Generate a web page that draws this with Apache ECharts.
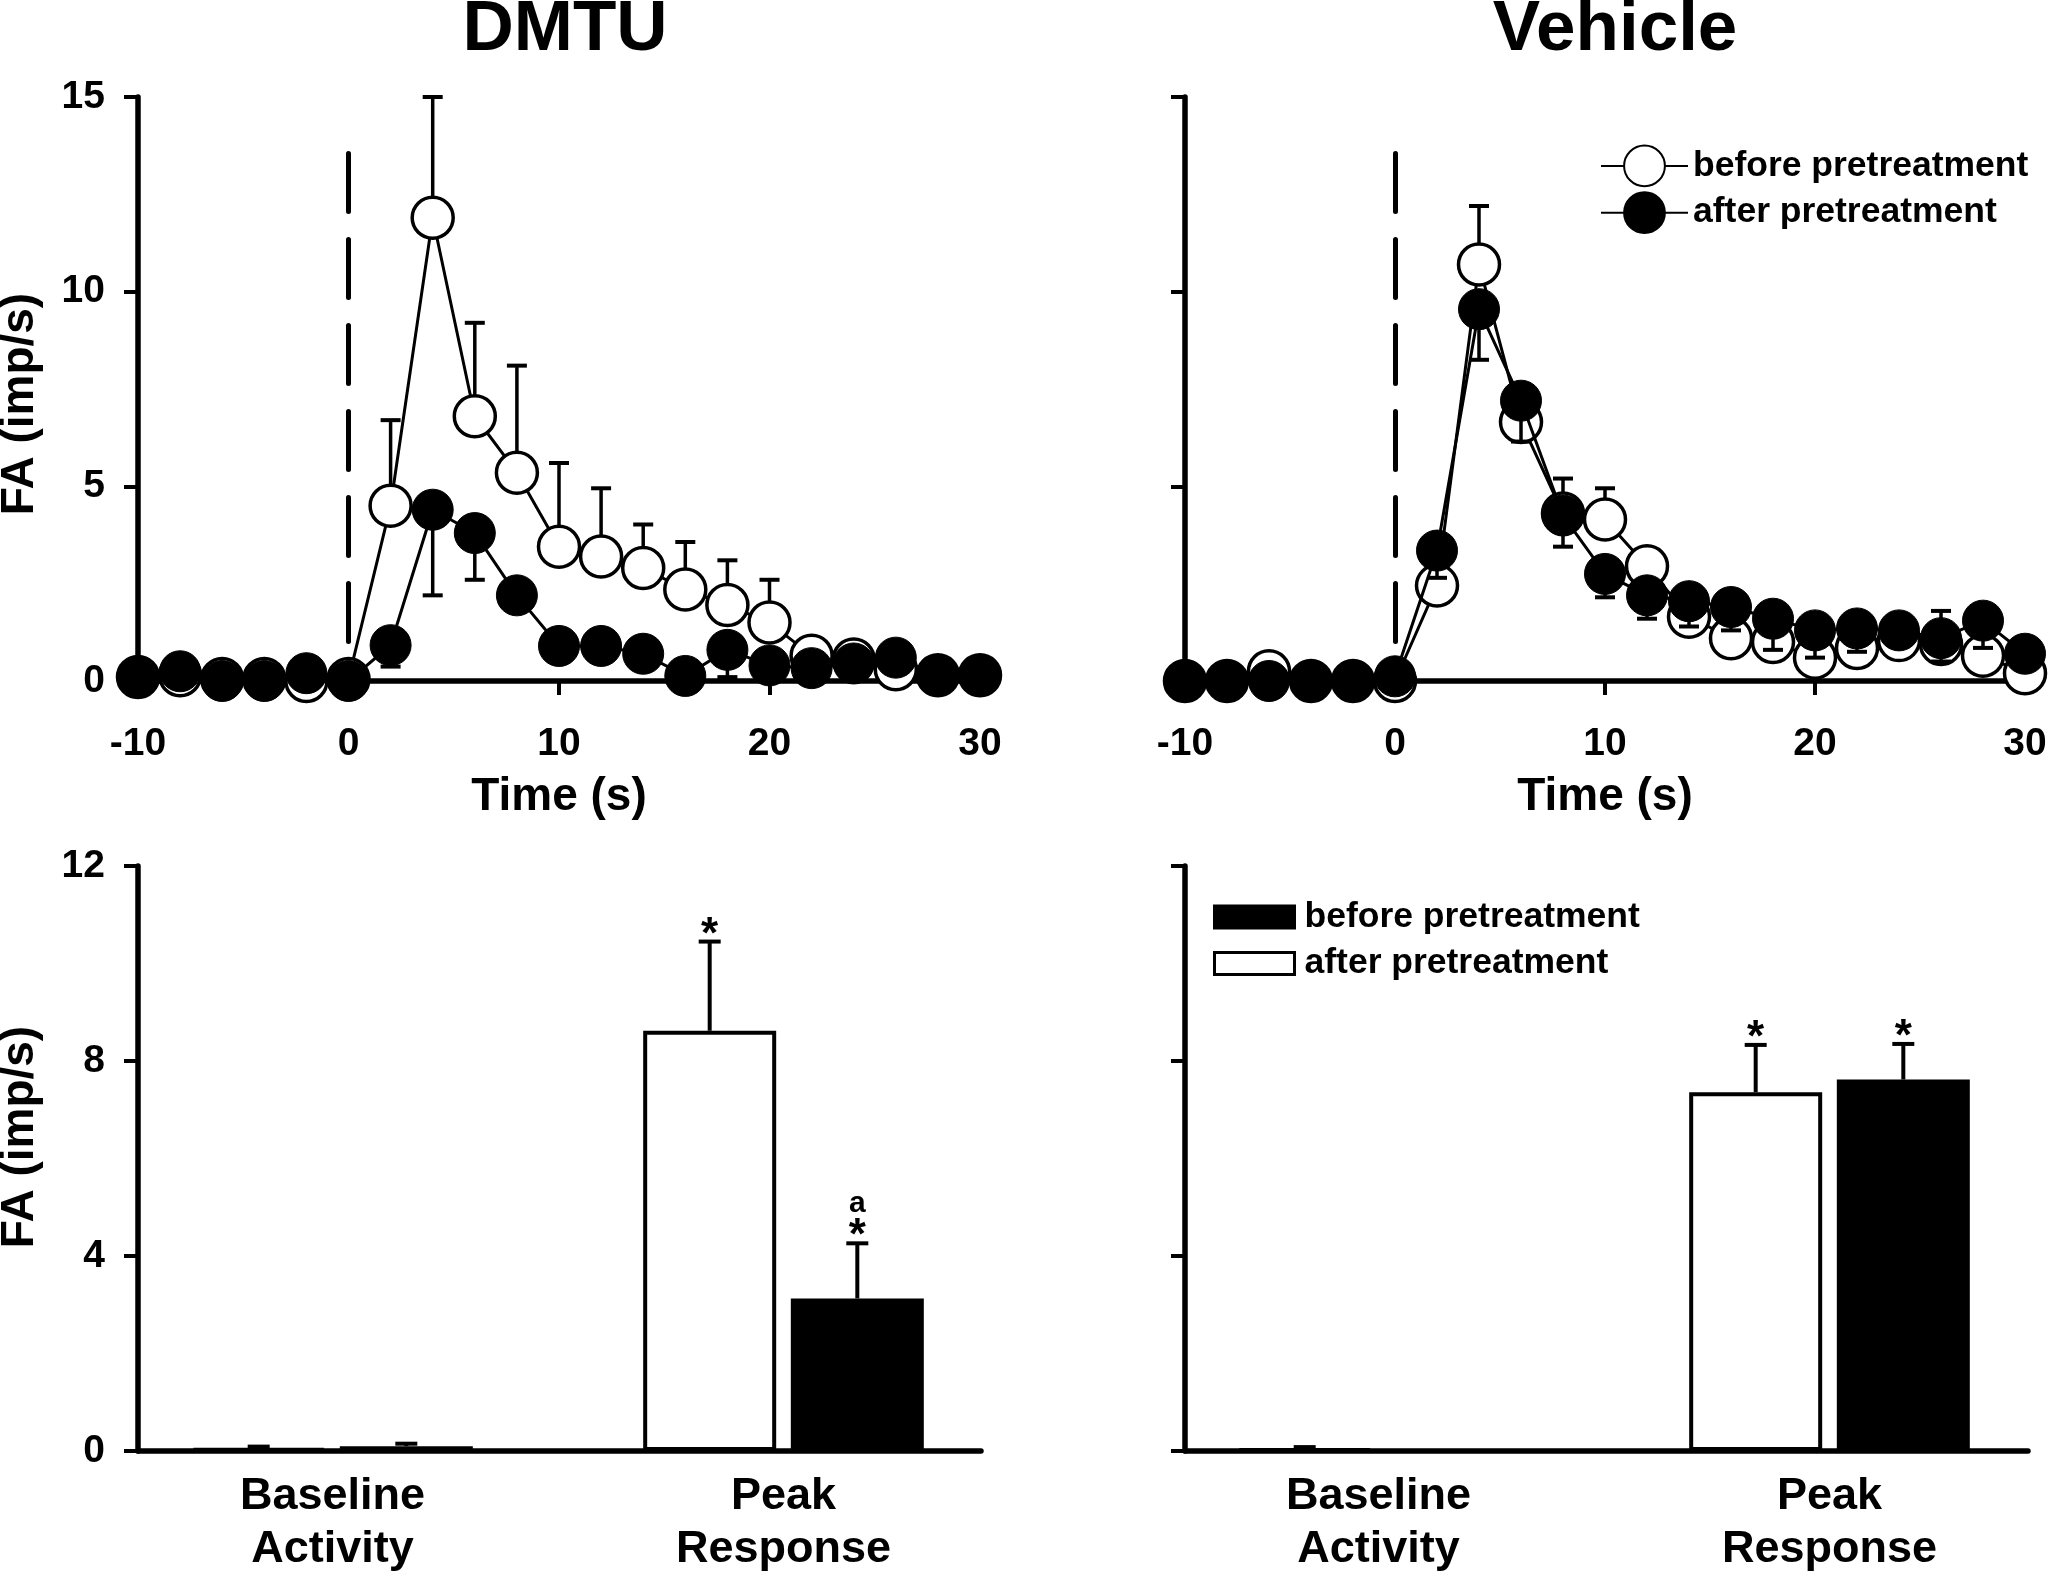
<!DOCTYPE html>
<html>
<head>
<meta charset="utf-8">
<script src="https://cdn.jsdelivr.net/npm/echarts@6/dist/echarts.min.js"></script>
<style>
html, body { margin: 0; padding: 0; background: #fff; }
#chart { width: 2050px; height: 1572px; }
</style>
</head>
<body>
<div id="chart"></div>
<script>
// ---------------- DATA ----------------
const timeS = [-10, -8, -6, -4, -2, 0, 2, 4, 6, 8, 10, 12, 14, 16, 18, 20, 22, 24, 26, 28, 30];

const dmtuBefore    = [0.1, 0.15, 0.05, 0.05, 0.0, 0.05, 4.5, 11.9, 6.8, 5.35, 3.45, 3.2, 2.9, 2.35, 1.95, 1.5, 0.65, 0.55, 0.3, 0.15, 0.15];
const dmtuBeforeSem = [0, 0, 0, 0, 0, 0, 2.2, 3.1, 2.4, 2.75, 2.15, 1.75, 1.12, 1.22, 1.15, 1.1, 0, 0, 0, 0, 0];
const dmtuAfter     = [0.1, 0.25, 0.0, 0.0, 0.2, 0.0, 0.92, 4.4, 3.8, 2.2, 0.9, 0.9, 0.7, 0.13, 0.8, 0.4, 0.33, 0.45, 0.6, 0.15, 0.15];
const dmtuAfterSem  = [0, 0, 0, 0, 0, 0, 0.55, 2.2, 1.2, 0, 0, 0, 0, 0, 0.7, 0, 0, 0, 0, 0, 0];

const vehBefore     = [0.0, 0.0, 0.25, 0.0, 0.0, 0.0, 2.45, 10.7, 6.65, 4.3, 4.15, 2.95, 1.65, 1.1, 1.0, 0.6, 0.85, 1.05, 0.95, 0.65, 0.2];
const vehBeforeSem  = [0, 0, 0, 0, 0, 0, 0, 1.5, 0, 0.9, 0.8, 0, 0, 0, 0, 0, 0, 0, 0.85, 0, 0];
const vehAfter      = [0.0, 0.0, 0.0, 0.0, 0.0, 0.12, 3.35, 9.55, 7.2, 4.25, 2.75, 2.2, 2.05, 1.9, 1.6, 1.3, 1.35, 1.3, 1.1, 1.55, 0.7];
const vehAfterSem   = [0, 0, 0, 0, 0, 0, 0.7, 1.3, 1.05, 0.8, 0.6, 0.6, 0.65, 0.6, 0.8, 0.7, 0.6, 0, 0.6, 0.7, 0];

const stimulusTime = 0;
const dashTop = 13.55;

const barCategories = ['Baseline\nActivity', 'Peak\nResponse'];
const dmtuWhite     = [0.05, 8.62];
const dmtuWhiteSem  = [0.04, 1.83];
const dmtuWhiteMark = ['', '*'];
const dmtuBlack     = [0.1, 3.13];
const dmtuBlackSem  = [0.05, 1.13];
const dmtuBlackMark = ['', 'a*'];
const vehWhite      = [0.04, 7.36];
const vehWhiteSem   = [0.04, 0.97];
const vehWhiteMark  = ['', '*'];
const vehBlack      = [0.02, 7.62];
const vehBlackSem   = [0.0, 0.73];
const vehBlackMark  = ['', '*'];

const lineYTicks = [0, 15, 5];   // min, max, interval
const lineXTicks = [-10, 30, 10];
const barYTicks  = [0, 12, 4];

const nameBefore = 'before pretreatment';
const nameAfter  = 'after pretreatment';

// ---------------- STYLE ----------------
const FONT = '"Liberation Sans", Arial, Helvetica, sans-serif';
const BLACK = '#000';
const BAR_W = 133;
const BAR_GAP = 0.11;
const SYM = 41;

const axisLine = { show: true, onZero: false, lineStyle: { color: BLACK, width: 5.5 } };
const axisTick = { show: true, length: 14, lineStyle: { color: BLACK, width: 4 } };
const tickLabel = { color: BLACK, fontSize: 39, fontWeight: 'bold', fontFamily: FONT };

const chart = echarts.init(document.getElementById('chart'), null, { renderer: 'canvas', width: 2050, height: 1572 });

function pairs(xs, ys, es) {
  return xs.map((x, i) => es ? [x, ys[i], es[i]] : [x, ys[i]]);
}

function lineErr(dir) {
  return function (params, api) {
    const x = api.value(0), y = api.value(1), e = api.value(2);
    if (!e) return { type: 'group', children: [] };
    const p0 = api.coord([x, y]);
    const p1 = api.coord([x, y + dir * e]);
    return {
      type: 'group',
      children: [
        { type: 'line', shape: { x1: p0[0], y1: p0[1], x2: p1[0], y2: p1[1] }, style: { stroke: BLACK, lineWidth: 3.5 } },
        { type: 'line', shape: { x1: p1[0] - 10, y1: p1[1], x2: p1[0] + 10, y2: p1[1] }, style: { stroke: BLACK, lineWidth: 4 } }
      ]
    };
  };
}

function barErr(sign, marks) {
  return function (params, api) {
    const ci = api.value(0), v = api.value(1), e = api.value(2);
    const off = sign * (BAR_W + BAR_W * BAR_GAP) / 2;
    const p0 = api.coord([ci, v]);
    const p1 = api.coord([ci, v + e]);
    const x = p0[0] + off;
    const children = [];
    if (e > 0) {
      children.push({ type: 'line', shape: { x1: x, y1: p0[1], x2: x, y2: p1[1] }, style: { stroke: BLACK, lineWidth: 4 } });
      children.push({ type: 'line', shape: { x1: x - 11, y1: p1[1], x2: x + 11, y2: p1[1] }, style: { stroke: BLACK, lineWidth: 4 } });
    }
    const m = marks[params.dataIndex] || '';
    if (m.indexOf('*') >= 0) {
      children.push({ type: 'text', x: x, y: p1[1] - 6,
        style: { text: '*', font: 'bold 44px ' + FONT, fill: BLACK, align: 'center', verticalAlign: 'middle', textAlign: 'center', textVerticalAlign: 'middle' } });
    }
    const letter = m.replace('*', '');
    if (letter) {
      children.push({ type: 'text', x: x, y: p1[1] - 40,
        style: { text: letter, font: 'bold 30px ' + FONT, fill: BLACK, align: 'center', verticalAlign: 'middle', textAlign: 'center', textVerticalAlign: 'middle' } });
    }
    return { type: 'group', children: children };
  };
}

const grids = [
  { left: 138, top: 97, width: 842, height: 584 },     // 0 top-left lines
  { left: 1185, top: 97, width: 840, height: 584 },    // 1 top-right lines
  { left: 138, top: 866, width: 843, height: 585 },    // 2 bottom-left axes
  { left: 107, top: 866, width: 902, height: 585 },    // 3 bottom-left bars
  { left: 1185, top: 866, width: 843, height: 585 },   // 4 bottom-right axes
  { left: 1153, top: 866, width: 902, height: 585 }    // 5 bottom-right bars
].map(g => Object.assign({ outerBoundsMode: 'none', containLabel: false }, g));

function timeXAxis(gi) {
  return {
    type: 'value', gridIndex: gi, min: lineXTicks[0], max: lineXTicks[1], interval: lineXTicks[2],
    axisLine: axisLine, axisTick: axisTick, splitLine: { show: false },
    axisLabel: Object.assign({ margin: 44 }, tickLabel),
    name: 'Time (s)', nameLocation: 'middle', nameGap: 93,
    nameTextStyle: { color: BLACK, fontSize: 46, fontWeight: 'bold', fontFamily: FONT }
  };
}
function valYAxis(gi, ticks, showLabels) {
  return {
    type: 'value', gridIndex: gi, min: ticks[0], max: ticks[1], interval: ticks[2],
    axisLine: axisLine, axisTick: axisTick, splitLine: { show: false },
    axisLabel: Object.assign({ show: showLabels, margin: 33 }, tickLabel)
  };
}
function dummyXAxis(gi) {
  return { type: 'value', gridIndex: gi, min: 0, max: 1, axisLine: axisLine, axisTick: { show: false },
    axisLabel: { show: false }, splitLine: { show: false } };
}
function catXAxis(gi) {
  return { type: 'category', gridIndex: gi, data: barCategories, axisLine: { show: false }, axisTick: { show: false },
    axisLabel: { color: BLACK, fontSize: 45, fontWeight: 'bold', fontFamily: FONT, lineHeight: 53, margin: 19, interval: 0 },
    splitLine: { show: false } };
}
function hiddenYAxis(gi) {
  return { type: 'value', gridIndex: gi, min: barYTicks[0], max: barYTicks[1], show: false, splitLine: { show: false } };
}

const openStyle = { color: '#fff', borderColor: BLACK, borderWidth: 3.5 };
const fillStyle = { color: BLACK, borderColor: BLACK, borderWidth: 1 };

function lineSeries(name, gi, ys, style, z, withDash) {
  const s = {
    type: 'line', name: name, xAxisIndex: gi, yAxisIndex: gi, data: pairs(timeS, ys),
    symbol: 'circle', symbolSize: SYM, showSymbol: true, clip: false, z: z,
    itemStyle: style, lineStyle: { color: BLACK, width: 3 }, emphasis: { disabled: true }
  };
  if (withDash) {
    s.markLine = {
      silent: true, symbol: ['none', 'none'], label: { show: false }, animation: false,
      lineStyle: { color: BLACK, width: 5, type: [58, 28], cap: 'round' },
      data: [[{ coord: [stimulusTime, dashTop] }, { coord: [stimulusTime, 0] }]]
    };
  }
  return s;
}
function errSeries(gi, ys, es, dir, z) {
  return { type: 'custom', xAxisIndex: gi, yAxisIndex: gi, data: pairs(timeS, ys, es),
    encode: { x: 0, y: 1 }, renderItem: lineErr(dir), z: z, silent: true, clip: false };
}
function barSeries(name, gi, vals, style) {
  return { type: 'bar', name: name, xAxisIndex: gi, yAxisIndex: gi, data: vals, barWidth: BAR_W,
    barGap: (BAR_GAP * 100) + '%', itemStyle: style, z: 3, emphasis: { disabled: true } };
}
function barErrSeries(gi, vals, sems, sign, marks) {
  return { type: 'custom', xAxisIndex: gi, yAxisIndex: gi,
    data: vals.map((v, i) => [i, v, sems[i]]), encode: { x: 0, y: 1 },
    renderItem: barErr(sign, marks), z: 4, silent: true, clip: false };
}

const textBase = { fill: BLACK, align: 'center', verticalAlign: 'middle', textAlign: 'center', textVerticalAlign: 'middle' };

const option = {
  animation: false,
  backgroundColor: '#fff',
  grid: grids,
  xAxis: [timeXAxis(0), timeXAxis(1), dummyXAxis(2), catXAxis(3), dummyXAxis(4), catXAxis(5)],
  yAxis: [valYAxis(0, lineYTicks, true), valYAxis(1, lineYTicks, false), valYAxis(2, barYTicks, true),
          hiddenYAxis(3), valYAxis(4, barYTicks, false), hiddenYAxis(5)],
  legend: [
    { left: 1595, top: 139.5, orient: 'vertical', itemWidth: 87, itemHeight: 51, itemGap: 4, selectedMode: false,
      data: [nameBefore, nameAfter],
      textStyle: { color: BLACK, fontSize: 35.5, fontWeight: 'bold', fontFamily: FONT } },
    { left: 1208, top: 894, orient: 'vertical', itemWidth: 80, itemHeight: 22, itemGap: 10.5, selectedMode: false,
      data: [
        { name: nameBefore, icon: 'rect', itemStyle: { color: BLACK, borderColor: BLACK, borderWidth: 3 } },
        { name: nameAfter, icon: 'rect', itemStyle: { color: '#fff', borderColor: BLACK, borderWidth: 3 } }
      ],
      textStyle: { color: BLACK, fontSize: 35.5, fontWeight: 'bold', fontFamily: FONT, padding: [0, 0, 0, 5] } }
  ],
  graphic: [
    { type: 'text', x: 565, y: 30, style: Object.assign({ text: 'DMTU', font: 'bold 71px ' + FONT }, textBase) },
    { type: 'text', x: 1615, y: 30, style: Object.assign({ text: 'Vehicle', font: 'bold 71px ' + FONT }, textBase) },
    { type: 'text', x: 20, y: 404, rotation: Math.PI / 2, style: Object.assign({ text: 'FA (imp/s)', font: 'bold 46px ' + FONT }, textBase) },
    { type: 'text', x: 20, y: 1137, rotation: Math.PI / 2, style: Object.assign({ text: 'FA (imp/s)', font: 'bold 46px ' + FONT }, textBase) }
  ],
  series: [
    // DMTU time course
    errSeries(0, dmtuBefore, dmtuBeforeSem, 1, 1),
    lineSeries(nameBefore, 0, dmtuBefore, openStyle, 2, true),
    errSeries(0, dmtuAfter, dmtuAfterSem, -1, 3),
    lineSeries(nameAfter, 0, dmtuAfter, fillStyle, 4, false),
    // Vehicle time course
    errSeries(1, vehBefore, vehBeforeSem, 1, 1),
    lineSeries(nameBefore, 1, vehBefore, openStyle, 2, true),
    errSeries(1, vehAfter, vehAfterSem, -1, 3),
    lineSeries(nameAfter, 1, vehAfter, fillStyle, 4, false),
    // DMTU bars
    barSeries(nameAfter, 3, dmtuWhite, { color: '#fff', borderColor: BLACK, borderWidth: 4 }),
    barSeries(nameBefore, 3, dmtuBlack, { color: BLACK, borderColor: BLACK, borderWidth: 2 }),
    barErrSeries(3, dmtuWhite, dmtuWhiteSem, -1, dmtuWhiteMark),
    barErrSeries(3, dmtuBlack, dmtuBlackSem, 1, dmtuBlackMark),
    // Vehicle bars
    barSeries(nameAfter, 5, vehWhite, { color: '#fff', borderColor: BLACK, borderWidth: 4 }),
    barSeries(nameBefore, 5, vehBlack, { color: BLACK, borderColor: BLACK, borderWidth: 2 }),
    barErrSeries(5, vehWhite, vehWhiteSem, -1, vehWhiteMark),
    barErrSeries(5, vehBlack, vehBlackSem, 1, vehBlackMark)
  ]
};
chart.setOption(option);
</script>
</body>
</html>
